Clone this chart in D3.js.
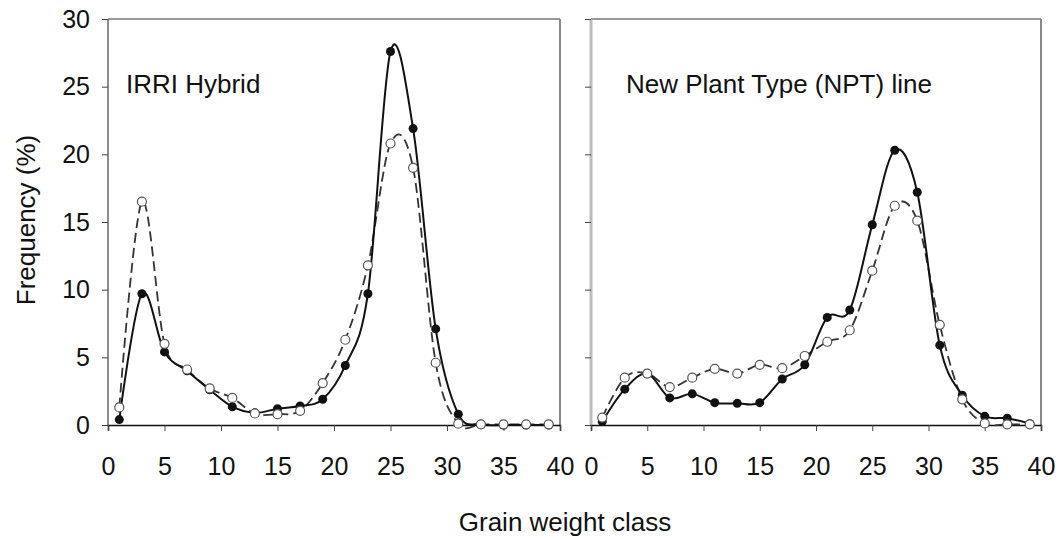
<!DOCTYPE html>
<html>
<head>
<meta charset="utf-8">
<script src="https://cdn.jsdelivr.net/npm/d3@7"></script>
<style>
  body { margin: 0; background: #fff; }
  text { font-family: Arial, "Liberation Sans", sans-serif; fill: #111; }
</style>
</head>
<body>
<svg id="chart" width="1060" height="539"></svg>
<script>
// grain weight classes (odd midpoints)
const classes = [1, 3, 5, 7, 9, 11, 13, 15, 17, 19, 21, 23, 25, 27, 29, 31, 33, 35, 37, 39]
const xTicks = [0, 5, 10, 15, 20, 25, 30, 35, 40]
const yTicks = [0, 5, 10, 15, 20, 25, 30]

// IRRI Hybrid
const hybridFilled = [0.4, 9.7, 5.4, 4.0, 2.6, 1.35, 0.9, 1.2, 1.4, 1.9, 4.4, 9.7, 27.6, 21.9, 7.1, 0.8, 0.05, 0, 0, 0]
const hybridOpen = [1.3, 16.5, 6.0, 4.1, 2.7, 2.0, 0.85, 0.8, 1.05, 3.1, 6.3, 11.8, 20.8, 19.0, 4.6, 0.1, 0.05, 0.05, 0.05, 0.05]

// New Plant Type line
const nptFilled = [0.25, 2.65, 3.8, 2.0, 2.3, 1.65, 1.6, 1.65, 3.4, 4.45, 7.95, 8.5, 14.8, 20.3, 17.2, 5.9, 2.2, 0.65, 0.5, 0.1]
const nptOpen = [0.55, 3.5, 3.8, 2.8, 3.5, 4.15, 3.8, 4.45, 4.2, 5.1, 6.15, 7.0, 11.4, 16.2, 15.1, 7.4, 1.9, 0.12, 0.05, 0.05]

const panels = [
    { title: "IRRI Hybrid", filled: hybridFilled, open: hybridOpen, x0: 108, x1: 560, tx: 126, leftColor: "#666", leftWidth: 1.5, labels: true },
    { title: "New Plant Type (NPT) line", filled: nptFilled, open: nptOpen, x0: 591, x1: 1041, tx: 626, leftColor: "#bbb", leftWidth: 3, labels: false }
]

const svg = d3.select("#chart")
const y = d3.scaleLinear().domain([0, 30]).range([425, 19])

panels.forEach(p => {
    const x = d3.scaleLinear().domain([0, 40]).range([p.x0, p.x1])
    const g = svg.append("g")

    // frame
    g.append("line").attr("x1", p.x0).attr("x2", p.x1).attr("y1", y(30)).attr("y2", y(30))
        .attr("stroke", "#999").attr("stroke-width", 2)
    g.append("line").attr("x1", p.x1).attr("x2", p.x1).attr("y1", y(30)).attr("y2", y(0))
        .attr("stroke", "#888").attr("stroke-width", 2)
    g.append("line").attr("x1", p.x0).attr("x2", p.x0).attr("y1", y(30)).attr("y2", y(0))
        .attr("stroke", p.leftColor).attr("stroke-width", p.leftWidth)

    // y axis
    const yAxis = g.append("g").attr("transform", `translate(${p.x0},0)`)
        .call(d3.axisLeft(y).tickValues(yTicks).tickSize(6).tickPadding(12)
            .tickFormat(p.labels ? d3.format("d") : ""))
    yAxis.select(".domain").remove()
    yAxis.selectAll(".tick line").attr("stroke", "#444")
    yAxis.selectAll("text").attr("font-size", 25).attr("fill", "#111")

    // x axis
    const xAxis = g.append("g").attr("transform", `translate(0,${y(0)})`)
        .call(d3.axisBottom(x).tickValues(xTicks).tickSize(6).tickPadding(26))
    xAxis.select(".domain").attr("stroke", "#111").attr("stroke-width", 1.6)
    xAxis.selectAll(".tick line").attr("stroke", "#444")
    xAxis.selectAll("text").attr("font-size", 25).attr("fill", "#111")

    const line = d3.line()
        .x((d, i) => x(classes[i]))
        .y(d => y(d))
        .curve(d3.curveCardinal.tension(0))

    g.append("path").datum(p.open).attr("d", line)
        .attr("fill", "none").attr("stroke", "#333").attr("stroke-width", 1.8)
        .attr("stroke-dasharray", "10,5")
    g.append("path").datum(p.filled).attr("d", line)
        .attr("fill", "none").attr("stroke", "#111").attr("stroke-width", 2)

    g.selectAll(".filled").data(p.filled).enter().append("circle")
        .attr("cx", (d, i) => x(classes[i])).attr("cy", d => y(d)).attr("r", 4.5)
        .attr("fill", "#111")
    g.selectAll(".open").data(p.open).enter().append("circle")
        .attr("cx", (d, i) => x(classes[i])).attr("cy", d => y(d)).attr("r", 4.5)
        .attr("fill", "#fff").attr("stroke", "#555").attr("stroke-width", 1.2)

    g.append("text").attr("x", p.tx).attr("y", 93).attr("font-size", 26).text(p.title)
})

svg.append("text").attr("transform", "translate(35,220) rotate(-90)")
    .attr("text-anchor", "middle").attr("font-size", 26).text("Frequency (%)")
svg.append("text").attr("x", 565).attr("y", 531)
    .attr("text-anchor", "middle").attr("font-size", 26).text("Grain weight class")
</script>
</body>
</html>
